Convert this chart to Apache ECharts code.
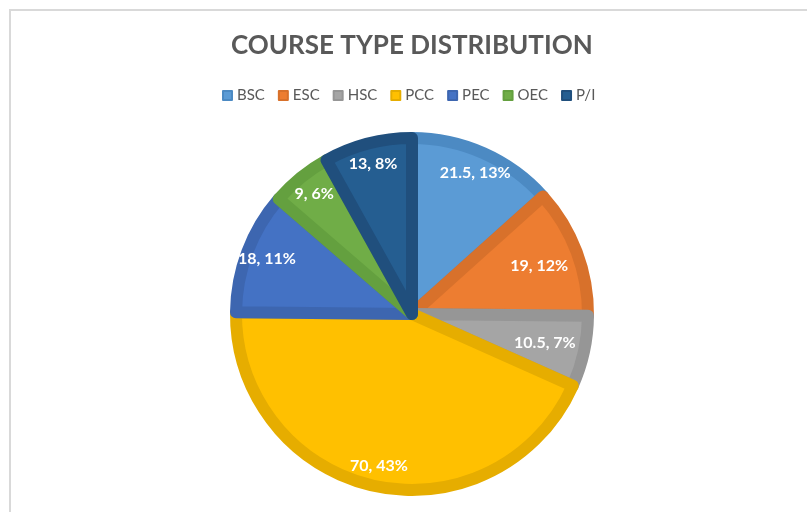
<!DOCTYPE html>
<html>
<head>
<meta charset="utf-8">
<script src="https://cdn.jsdelivr.net/npm/echarts@6/dist/echarts.min.js"></script>
<style>
html, body { margin: 0; padding: 0; background: #fff; }
#main { width: 807px; height: 512px; }
</style>
</head>
<body>
<div id="main"></div>
<script>
// course types and credits
var categories = ['BSC', 'ESC', 'HSC', 'PCC', 'PEC', 'OEC', 'P/I'];
var credits = [21.5, 19, 10.5, 70, 18, 9, 13];
var fillColors = ['#5B9BD5', '#ED7D31', '#A5A5A5', '#FFC000', '#4472C4', '#70AD47', '#255E91'];
var edgeColors = ['#4C8AC3', '#D8712B', '#969696', '#E6AD00', '#3D66B0', '#64A03F', '#204F7D'];

var pieData = [];
var outerLabels = [];
var innerLabels = [];
for (var i = 0; i < categories.length; i++) {
    pieData.push({
        name: categories[i],
        value: credits[i],
        itemStyle: { color: fillColors[i], borderColor: edgeColors[i] }
    });
    // ESC and HSC labels sit closer to the centre
    var near = (i == 1 || i == 2);
    outerLabels.push({ name: categories[i], value: credits[i], label: { show: !near } });
    innerLabels.push({ name: categories[i], value: credits[i], label: { show: near } });
}

var labelStyle = {
    position: 'inside',
    formatter: '{c}, {d}%',
    color: '#ffffff',
    fontFamily: 'Lato',
    fontSize: 16,
    fontWeight: 'bold'
};

function labelSeries(name, radius, data) {
    return {
        name: name,
        type: 'pie',
        center: [412, 314],
        radius: radius,
        startAngle: 90,
        clockwise: true,
        silent: true,
        percentPrecision: 0,
        itemStyle: { color: 'rgba(0,0,0,0)', borderWidth: 0 },
        label: labelStyle,
        labelLine: { show: false },
        data: data
    };
}

var myChart = echarts.init(document.getElementById('main'));
var option = {
    animation: false,
    textStyle: { fontFamily: 'Lato' },
    graphic: [{
        type: 'rect',
        shape: { x: 10, y: 10, width: 900, height: 700 },
        style: { fill: 'none', stroke: '#d9d9d9', lineWidth: 2 },
        silent: true
    }],
    title: {
        text: 'COURSE TYPE DISTRIBUTION',
        left: 226,
        top: 28,
        textStyle: { fontFamily: 'Lato', fontSize: 26, fontWeight: 'bold', color: '#595959' }
    },
    legend: {
        data: categories,
        top: 83,
        left: 217,
        itemWidth: 9,
        itemHeight: 9,
        itemGap: 13,
        icon: 'rect',
        textStyle: { fontFamily: 'Lato', fontSize: 15, color: '#595959' }
    },
    series: [
        {
            name: 'slices',
            type: 'pie',
            center: [412, 314],
            radius: [0, 176],
            startAngle: 90,
            clockwise: true,
            silent: true,
            itemStyle: { borderWidth: 12, borderJoin: 'round' },
            label: { show: false },
            labelLine: { show: false },
            data: pieData
        },
        labelSeries('labelsFar', [120, 184], outerLabels),
        labelSeries('labelsNear', [84, 182], innerLabels)
    ]
};
myChart.setOption(option);
</script>
</body>
</html>
